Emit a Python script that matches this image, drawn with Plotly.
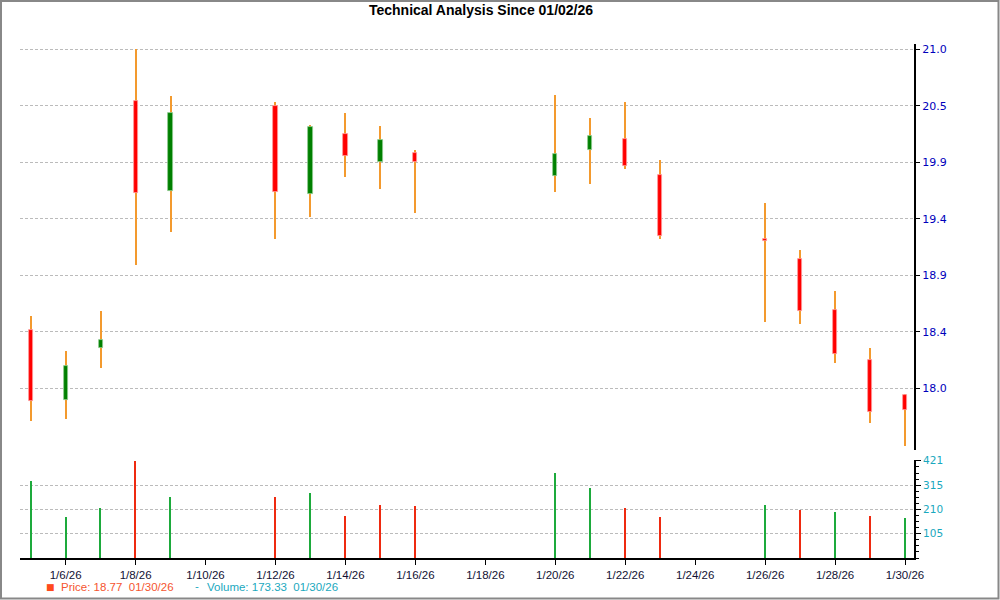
import plotly.graph_objects as go
import pandas as pd

# ---------------- data ----------------
dates = ["2026-01-05", "2026-01-06", "2026-01-07", "2026-01-08", "2026-01-09",
         "2026-01-12", "2026-01-13", "2026-01-14", "2026-01-15", "2026-01-16",
         "2026-01-20", "2026-01-21", "2026-01-22", "2026-01-23",
         "2026-01-26", "2026-01-27", "2026-01-28", "2026-01-29", "2026-01-30"]
open_ = [18.52, 17.90, 18.36, 20.54, 19.75, 20.50, 19.72, 20.25, 20.00, 20.08,
         19.88, 20.11, 20.21, 19.89, 19.32, 19.14, 18.69, 18.25, 17.94]
high = [18.64, 18.33, 18.68, 21.00, 20.59, 20.53, 20.33, 20.44, 20.32, 20.11,
        20.60, 20.39, 20.53, 20.02, 19.64, 19.22, 18.86, 18.36, 17.95]
low = [17.71, 17.73, 18.18, 19.09, 19.38, 19.32, 19.52, 19.87, 19.76, 19.55,
       19.74, 19.81, 19.94, 19.32, 18.59, 18.57, 18.22, 17.69, 17.49]
close = [17.89, 18.20, 18.43, 19.73, 20.44, 19.74, 20.31, 20.06, 20.20, 20.00,
         20.07, 20.23, 19.97, 19.35, 19.30, 18.68, 18.30, 17.79, 17.81]
volume = [334, 177, 216, 421, 265, 265, 282, 183, 230, 226,
          369, 304, 217, 178, 230, 209, 200, 183, 173.33]
vol_dir = ["up", "up", "up", "down", "up", "down", "up", "down", "down", "down",
           "up", "up", "down", "down", "up", "down", "up", "down", "up"]

price_tick_vals = [18.0, 18.5, 19.0, 19.5, 20.0, 20.5, 21.0]
price_tick_text = ["18.0", "18.4", "18.9", "19.4", "19.9", "20.5", "21.0"]
vol_tick_vals = [105, 210, 315, 421]
x_tick_dates = ["2026-01-06", "2026-01-08", "2026-01-10", "2026-01-12", "2026-01-14",
                "2026-01-16", "2026-01-18", "2026-01-20", "2026-01-22", "2026-01-24",
                "2026-01-26", "2026-01-28", "2026-01-30"]

title_text = "Technical Analysis Since 01/02/26"
legend_price = "Price: 18.77  01/30/26"
legend_volume = "Volume: 173.33  01/30/26"

# ---------------- styling ----------------
RED = "#FF0000"
GREEN = "#008000"
WICK = "#F39A2E"
VOL_UP = "#1DAA3C"
VOL_DOWN = "#EE2A10"
GRID = "#BBBBBB"

DAY_MS = 86400000.0
PX_PER_DAY = 34.94
def px_to_ms(px):
    return px / PX_PER_DAY * DAY_MS

x = pd.to_datetime(dates)
body_base = [min(o, c) for o, c in zip(open_, close)]
body_h = [max(abs(c - o), 0.012) for o, c in zip(open_, close)]
body_col = [GREEN if c > o else RED for o, c in zip(open_, close)]
body_edge = ["#8FCB8F" if c > o else "#FF9A9A" for o, c in zip(open_, close)]
wick_h = [h - l for h, l in zip(high, low)]
vol_col = [VOL_UP if d == "up" else VOL_DOWN for d in vol_dir]

fig = go.Figure()

# wicks
fig.add_trace(go.Bar(
    x=x, y=wick_h, base=low, width=px_to_ms(1.1),
    marker=dict(color=WICK, line=dict(width=0)),
    xaxis="x", yaxis="y", showlegend=False, hoverinfo="skip"))
# bodies
fig.add_trace(go.Bar(
    x=x, y=body_h, base=body_base, width=px_to_ms(4.2),
    marker=dict(color=body_col, line=dict(width=0.8, color=body_edge)),
    xaxis="x", yaxis="y", showlegend=False,
    customdata=list(zip(open_, high, low, close)),
    hovertemplate="O %{customdata[0]}<br>H %{customdata[1]}<br>L %{customdata[2]}<br>C %{customdata[3]}<extra></extra>"))
# volume
fig.add_trace(go.Bar(
    x=x, y=volume, width=px_to_ms(1.3),
    marker=dict(color=vol_col, line=dict(width=0)),
    xaxis="x", yaxis="y2", showlegend=False))

W, H = 1000, 600
ML, MR, MT, MB = 20, 86, 44, 42
PW, PH = W - ML - MR, H - MT - MB

def fx(px):
    return (px - ML) / PW

def fy(py):
    return (H - MB - py) / PH

fig.update_layout(
    width=W, height=H,
    margin=dict(l=ML, r=MR, t=MT, b=MB),
    paper_bgcolor="white", plot_bgcolor="white",
    barmode="overlay", bargap=0,
    showlegend=False,
    title=dict(text="<b>" + title_text + "</b>", x=0.481, xanchor="center",
               y=1 - 10 / H, yanchor="middle", yref="container",
               font=dict(family="Liberation Sans", size=14, color="black")),
    xaxis=dict(
        type="date", anchor="y2",
        range=["2026-01-04 16:40", "2026-01-30 06:10"],
        tickvals=pd.to_datetime(x_tick_dates), tickformat="%-m/%-d/%y",
        ticks="outside", ticklen=5, tickcolor="black", tickwidth=1,
        showline=True, linecolor="black", linewidth=2,
        showgrid=False, zeroline=False,
        tickfont=dict(family="Liberation Sans", size=11.5, color="#111133"),
        rangeslider=dict(visible=False)),
    yaxis=dict(
        domain=[fy(450), 1], anchor="x", side="right",
        range=[17.454, 21.047],
        tickvals=price_tick_vals, ticktext=price_tick_text,
        ticks="outside", ticklen=4, tickcolor="black",
        showline=True, linecolor="black", linewidth=2,
        showgrid=True, gridcolor=GRID, gridwidth=1, griddash="3px,2px",
        zeroline=False,
        tickfont=dict(family="DejaVu Sans", size=11, color="#0000BB")),
    yaxis2=dict(
        domain=[0, fy(460)], anchor="x", side="right",
        range=[0, 424],
        tickvals=vol_tick_vals,
        ticks="outside", ticklen=5, tickcolor="black",
        minor=dict(tick0=0, dtick=26.25, ticks="outside", ticklen=3,
                   tickcolor="black", showgrid=False),
        showline=True, linecolor="black", linewidth=2,
        showgrid=True, gridcolor=GRID, gridwidth=1, griddash="3px,2px",
        zeroline=False,
        tickfont=dict(family="DejaVu Sans", size=10.5, color="#1AA8BE")),
)

# legend-like texts at the bottom
fig.add_annotation(xref="paper", yref="paper", x=fx(50), y=fy(587),
                   text="■", showarrow=False, xanchor="center", yanchor="middle",
                   font=dict(family="DejaVu Sans", size=9, color="#FF4A1C"))
fig.add_annotation(xref="paper", yref="paper", x=fx(59), y=fy(587),
                   text=legend_price, showarrow=False, xanchor="left", yanchor="middle",
                   font=dict(family="Liberation Sans", size=11.5, color="#F5552F"))
fig.add_annotation(xref="paper", yref="paper", x=fx(196.5), y=fy(586),
                   text="-", showarrow=False, xanchor="center", yanchor="middle",
                   font=dict(family="Liberation Sans", size=11.5, color="#1AA8BE"))
fig.add_annotation(xref="paper", yref="paper", x=fx(205), y=fy(587),
                   text=legend_volume, showarrow=False, xanchor="left", yanchor="middle",
                   font=dict(family="Liberation Sans", size=11.5, color="#1AA8BE"))

# outer frame
fig.add_shape(type="rect", xref="paper", yref="paper",
              x0=fx(1), x1=fx(998.5), y0=fy(598.5), y1=fy(1),
              line=dict(color="#888888", width=2), fillcolor="rgba(0,0,0,0)",
              layer="above")

fig.write_html("out.html",
               config={"displayModeBar": False},
               post_script="document.body.style.margin='0';document.body.style.overflow='hidden';")
